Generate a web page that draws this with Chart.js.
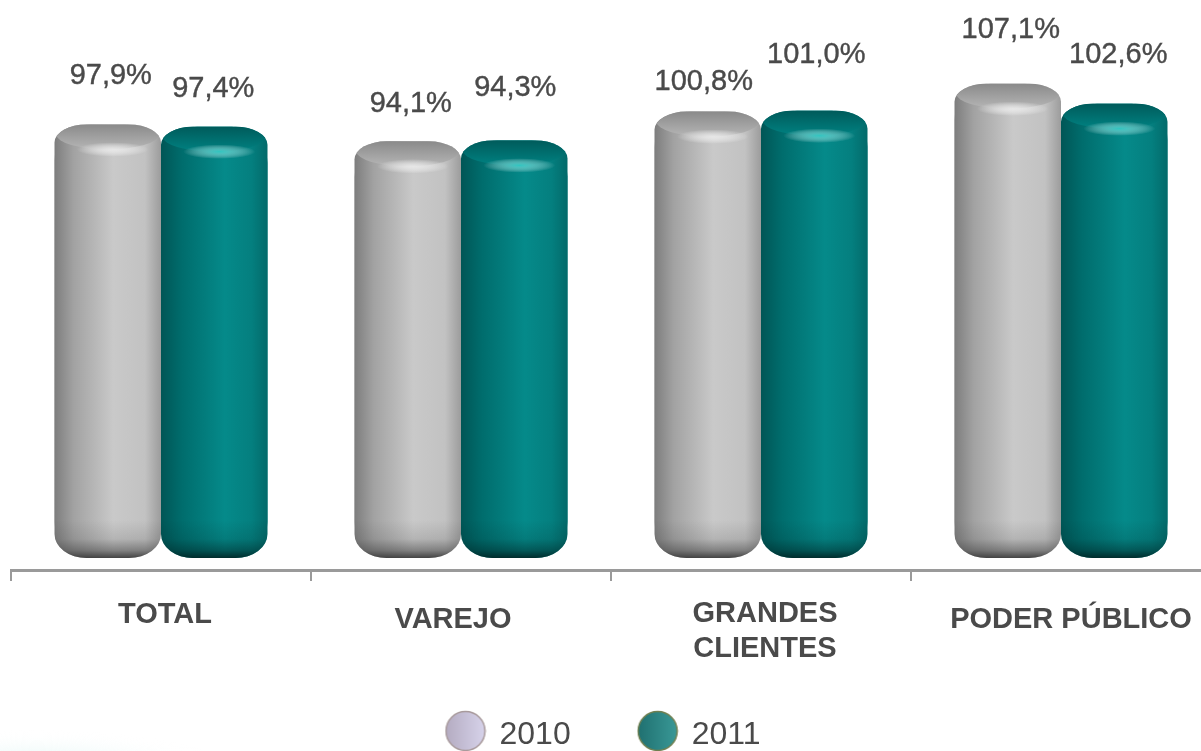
<!DOCTYPE html>
<html>
<head>
<meta charset="utf-8">
<title>Chart</title>
<script src="https://cdn.jsdelivr.net/npm/chart.js@4"></script>
<style>
html, body { margin: 0; padding: 0; background: #fff; overflow: hidden; width: 1201px; height: 751px; }
#wrap { position: absolute; left: 0; top: 0; width: 1201px; height: 751px; overflow: hidden; }
/* canvas is a bit bigger than the window: the last category runs off the right edge */
#grafico { position: absolute; left: -13px; top: 0; }
</style>
</head>
<body>
<div id="wrap"><canvas id="grafico" width="1230" height="761"></canvas></div>
<script>
var categorias = [["TOTAL"], ["VAREJO"], ["GRANDES", "CLIENTES"], ["PODER PÚBLICO"]];
var anos = ["2010", "2011"];
var valores2010 = [97.9, 94.1, 100.8, 107.1];
var valores2011 = [97.4, 94.3, 101.0, 102.6];

// the labels in the picture are hand placed, so each one has its own nudge
var nudgeValor = [
    [[3, 48], [3, 37], [-4, 30], [3, 54]],
    [[-1, 38], [1, 52], [2, 56], [4, 49]]
];
var nudgeCategoria = [[4, 45], [-8, 50], [4, 44], [10, 50]];

var corTexto = "#4a4a4a";
var fonte = '"Liberation Sans", Arial, sans-serif';

var estilos = [
    {
        corpo: [[0, "#7d7d7d"], [0.18, "#a2a2a2"], [0.55, "#c9c9c9"], [0.85, "#c2c2c2"], [1, "#9c9c9c"]],
        tampa: ["#8a8a8a", "#b4b4b4"],
        brilho: "rgba(232,232,232,0.95)",
        fundo: [60, 60, 60]
    },
    {
        corpo: [[0, "#005656"], [0.2, "#006d6d"], [0.6, "#058a8a"], [0.85, "#047f7f"], [1, "#036a6a"]],
        tampa: ["#005b5b", "#008080"],
        brilho: "rgba(50,200,195,0.95)",
        fundo: [0, 40, 40]
    }
];

// legend symbol, circle sits above the middle of the image so it lines up with the text
function bolinha(c1, c2, borda) {
    var c = document.createElement("canvas");
    c.width = 42; c.height = 50;
    var g = c.getContext("2d");
    var grad = g.createLinearGradient(0, 0, 42, 0);
    grad.addColorStop(0, c1);
    grad.addColorStop(1, c2);
    g.fillStyle = grad;
    g.beginPath();
    g.arc(21, 21, 19.5, 0, Math.PI * 2);
    g.fill();
    g.lineWidth = 1.5;
    g.strokeStyle = borda;
    g.stroke();
    return c;
}
var simbolos = [bolinha("#b3aac0", "#d8d4ec", "#a89a9c"), bolinha("#1f6f6f", "#3a9a98", "#6f7f50")];

function contorno(ctx, x, y, w, h) {
    var rx = 32, ryTop = 18, ryBase = 24;
    ctx.beginPath();
    ctx.moveTo(x, y + ryTop);
    ctx.ellipse(x + rx, y + ryTop, rx, ryTop, 0, Math.PI, Math.PI * 1.5);
    ctx.lineTo(x + w - rx, y);
    ctx.ellipse(x + w - rx, y + ryTop, rx, ryTop, 0, Math.PI * 1.5, Math.PI * 2);
    ctx.lineTo(x + w, y + h - ryBase);
    ctx.ellipse(x + w - rx, y + h - ryBase, rx, ryBase, 0, 0, Math.PI * 0.5);
    ctx.lineTo(x + rx, y + h);
    ctx.ellipse(x + rx, y + h - ryBase, rx, ryBase, 0, Math.PI * 0.5, Math.PI);
    ctx.closePath();
}

// paints the cylinder look over the bars chart.js placed
var cilindros = {
    id: "cilindros",
    afterDatasetsDraw: function (chart) {
        var ctx = chart.ctx;
        chart.data.datasets.forEach(function (ds, d) {
            var est = estilos[d];
            chart.getDatasetMeta(d).data.forEach(function (bar) {
                var x = bar.x - bar.width / 2, w = bar.width, y = bar.y, h = bar.base - bar.y;
                ctx.save();
                contorno(ctx, x, y, w, h);
                var g = ctx.createLinearGradient(x, 0, x + w, 0);
                est.corpo.forEach(function (s) { g.addColorStop(s[0], s[1]); });
                ctx.fillStyle = g;
                ctx.fill();
                ctx.clip();

                // top cap
                var gt = ctx.createLinearGradient(0, y, 0, y + 24);
                gt.addColorStop(0, est.tampa[0]);
                gt.addColorStop(1, est.tampa[1]);
                ctx.fillStyle = gt;
                ctx.beginPath();
                ctx.ellipse(bar.x, y + 10, w / 2 - 2, 15, 0, 0, Math.PI * 2);
                ctx.fill();

                // highlight under the cap
                ctx.save();
                ctx.translate(bar.x + 5, y + 25);
                ctx.scale(1, 0.2);
                var gb = ctx.createRadialGradient(0, 0, 0, 0, 0, 36);
                gb.addColorStop(0, est.brilho);
                gb.addColorStop(1, "rgba(255,255,255,0)");
                ctx.fillStyle = gb;
                ctx.beginPath();
                ctx.arc(0, 0, 36, 0, Math.PI * 2);
                ctx.fill();
                ctx.restore();

                // darker bottom edge, fading in slowly so no band shows
                var f = est.fundo.join(",");
                var gf = ctx.createLinearGradient(0, bar.base - 38, 0, bar.base);
                gf.addColorStop(0, "rgba(" + f + ",0)");
                gf.addColorStop(0.5, "rgba(" + f + ",0.15)");
                gf.addColorStop(0.8, "rgba(" + f + ",0.5)");
                gf.addColorStop(1, "rgba(" + f + ",0.95)");
                ctx.fillStyle = gf;
                ctx.fillRect(x, bar.base - 38, w, 38);
                ctx.restore();
            });
        });
    }
};

var textos = {
    id: "textos",
    afterLayout: function (chart) {
        // the legend is not centred on the page in the picture
        chart.legend.right -= 14;
    },
    beforeDraw: function (chart) {
        // faint background swoosh in the lower left corner
        var ctx = chart.ctx;
        ctx.save();
        ctx.translate(50, 768);
        ctx.scale(1, 0.2);
        var g = ctx.createRadialGradient(0, 0, 0, 0, 0, 190);
        g.addColorStop(0, "rgba(215,243,241,0.9)");
        g.addColorStop(1, "rgba(255,255,255,0)");
        ctx.fillStyle = g;
        ctx.beginPath();
        ctx.arc(0, 0, 190, 0, Math.PI * 2);
        ctx.fill();
        ctx.restore();
    },
    afterDraw: function (chart) {
        var ctx = chart.ctx;
        ctx.save();
        ctx.fillStyle = corTexto;
        ctx.strokeStyle = corTexto;
        ctx.lineWidth = 0.4;
        ctx.textAlign = "center";
        ctx.textBaseline = "middle";

        ctx.font = "29px " + fonte;
        chart.data.datasets.forEach(function (ds, d) {
            chart.getDatasetMeta(d).data.forEach(function (bar, i) {
                var txt = ds.data[i].toFixed(1).replace(".", ",") + "%";
                var tx = bar.x + nudgeValor[d][i][0], ty = bar.y - nudgeValor[d][i][1];
                ctx.fillText(txt, tx, ty);
                ctx.strokeText(txt, tx, ty);
            });
        });

        ctx.font = "bold 29px " + fonte;
        var esc = chart.scales.x;
        categorias.forEach(function (linhas, i) {
            var cx = esc.getPixelForValue(i) + nudgeCategoria[i][0];
            var cy = esc.top + nudgeCategoria[i][1];
            linhas.forEach(function (l, k) {
                ctx.fillText(l, cx, cy + k * 35);
            });
        });
        ctx.restore();
    }
};

var grafico = new Chart(document.getElementById("grafico"), {
    type: "bar",
    data: {
        labels: categorias,
        datasets: [
            { label: anos[0], data: valores2010, backgroundColor: "#b0b0b0", borderRadius: 36, borderSkipped: false },
            { label: anos[1], data: valores2011, backgroundColor: "#047f7f", borderRadius: 36, borderSkipped: false }
        ]
    },
    plugins: [cilindros, textos],
    options: {
        responsive: false,
        animation: false,
        categoryPercentage: 0.71,
        barPercentage: 1,
        layout: { padding: { left: 24, right: 6, top: 0, bottom: 0 } },
        scales: {
            y: { display: false, min: -2.7, max: 126 },
            x: {
                afterFit: function (s) { s.height = 80; },
                ticks: { display: false },
                grid: { drawOnChartArea: false, color: "#9a9a9a", lineWidth: 2, tickLength: 11 },
                border: { color: "#9a9a9a", width: 3 }
            }
        },
        plugins: {
            tooltip: { enabled: false },
            legend: {
                position: "bottom",
                labels: {
                    usePointStyle: true,
                    pointStyleWidth: 36,
                    padding: 69,
                    color: corTexto,
                    font: { family: fonte, size: 32 },
                    generateLabels: function () {
                        return anos.map(function (a, i) {
                            return { text: a, pointStyle: simbolos[i], datasetIndex: i, fontColor: corTexto };
                        });
                    }
                }
            }
        }
    }
});
</script>
</body>
</html>
